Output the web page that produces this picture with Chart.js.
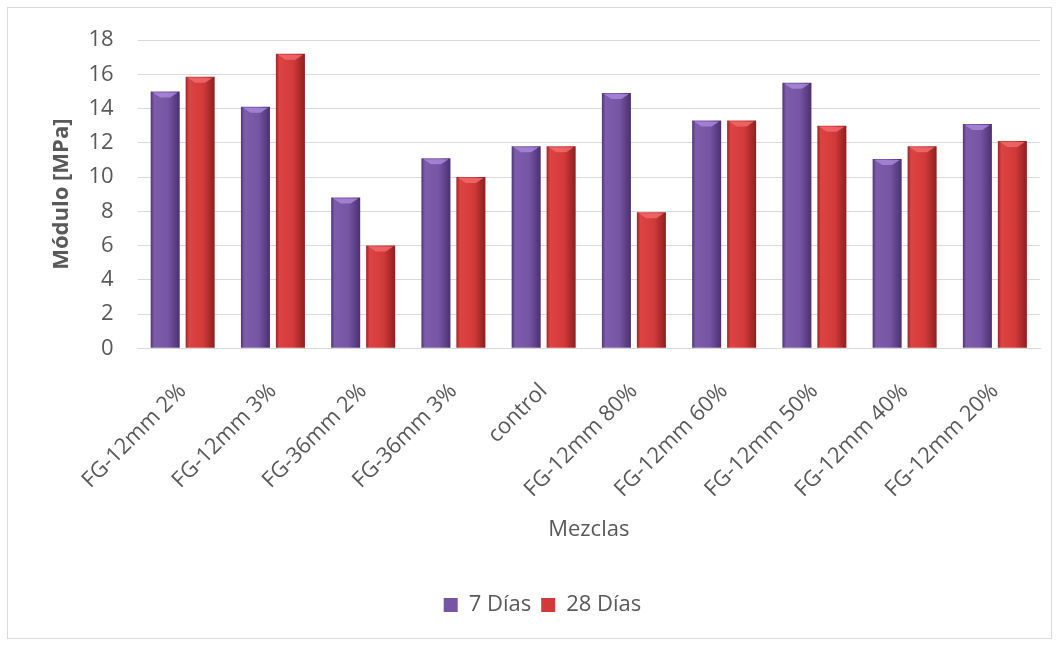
<!DOCTYPE html>
<html>
<head>
<meta charset="utf-8">
<script src="https://cdn.jsdelivr.net/npm/chart.js@4/dist/chart.umd.min.js"></script>
<style>
  html, body { margin: 0; padding: 0; background: #fff; }
  #wrap { position: absolute; left: 7px; top: 7px; width: 1045px; height: 632px; border: 1px solid #d9d9d9; box-sizing: border-box; overflow: hidden; }
  #c { position: absolute; left: 0; top: 0; }
</style>
</head>
<body>
<div id="wrap"><canvas id="c" width="1043" height="630"></canvas></div>
<script>
const categories = ['FG-12mm 2%', 'FG-12mm 3%', 'FG-36mm 2%', 'FG-36mm 3%', 'control', 'FG-12mm 80%', 'FG-12mm 60%', 'FG-12mm 50%', 'FG-12mm 40%', 'FG-12mm 20%'];
const dias7 = [15.0, 14.1, 8.8, 11.1, 11.8, 14.9, 13.3, 15.5, 11.05, 13.1];
const dias28 = [15.85, 17.2, 6.0, 10.0, 11.8, 7.95, 13.3, 13.0, 11.8, 12.1];
const yTicks = [0, 2, 4, 6, 8, 10, 12, 14, 16, 18];

const stops = {
  purple: { body: ['#4f3578', '#7d5cab', '#7655a4', '#4a3070'], bevel: '#a886d8' },
  red: { body: ['#9c2424', '#de4343', '#d23a3a', '#8e1f1f'], bevel: '#f06a6a' }
};

const gradientPlugin = {
  id: 'barGradient',
  beforeDatasetsDraw(chart) {
    const ctx = chart.ctx;
    chart.data.datasets.forEach((ds, di) => {
      const meta = chart.getDatasetMeta(di);
      const s = stops[ds.gradKey].body;
      meta.data.forEach(bar => {
        const x0 = bar.x - bar.width / 2, x1 = bar.x + bar.width / 2;
        const g = ctx.createLinearGradient(x0, 0, x1, 0);
        g.addColorStop(0, s[0]);
        g.addColorStop(0.12, s[1]);
        g.addColorStop(0.6, s[2]);
        g.addColorStop(1, s[3]);
        bar.options = Object.assign({}, bar.options, { backgroundColor: g });
      });
    });
  },
  afterDatasetsDraw(chart) {
    const ctx = chart.ctx;
    chart.data.datasets.forEach((ds, di) => {
      const meta = chart.getDatasetMeta(di);
      const c = stops[ds.gradKey].bevel;
      meta.data.forEach(bar => {
        const x0 = bar.x - bar.width / 2, x1 = bar.x + bar.width / 2, top = bar.y;
        ctx.save();
        ctx.fillStyle = c;
        ctx.globalAlpha = 0.85;
        ctx.beginPath();
        ctx.moveTo(x0 + 2, top + 1);
        ctx.lineTo(x1 - 2, top + 1);
        ctx.lineTo(bar.x + 5, top + 6);
        ctx.lineTo(bar.x - 5, top + 6);
        ctx.closePath();
        ctx.fill();
        ctx.restore();
      });
    });
  }
};

new Chart(document.getElementById('c'), {
  type: 'bar',
  data: {
    labels: categories,
    datasets: [
      { label: '7 Días', data: dias7, gradKey: 'purple', backgroundColor: '#7655a4', borderWidth: 0 },
      { label: '28 Días', data: dias28, gradKey: 'red', backgroundColor: '#d23a3a', borderWidth: 0 }
    ]
  },
  plugins: [gradientPlugin],
  options: {
    responsive: false,
    animation: false,
    devicePixelRatio: 1,
    layout: { padding: { left: 37, right: 11, top: 32, bottom: 12 } },
    datasets: { bar: { categoryPercentage: 0.775, barPercentage: 0.83 } },
    scales: {
      x: {
        afterFit(axis) { axis.paddingLeft = 0; axis.paddingRight = 0; },
        grid: { display: false, drawTicks: false },
        border: { display: true, color: '#d9d9d9' },
        ticks: { color: '#595959', font: { family: 'Open Sans', size: 22 }, maxRotation: 45, minRotation: 45, padding: 30, autoSkip: false },
        title: { display: true, text: 'Mezclas', color: '#595959', font: { family: 'Open Sans', size: 22 }, padding: { top: -16, bottom: 41 } }
      },
      y: {
        min: 0, max: 18,
        afterBuildTicks(axis) { axis.ticks = yTicks.map(v => ({ value: v })); },
        afterFit(axis) { axis.paddingTop = 0; axis.paddingBottom = 0; },
        grid: { color: '#d9d9d9', drawTicks: false },
        border: { display: false },
        ticks: { color: '#595959', font: { family: 'Open Sans', size: 22 }, padding: 24 },
        title: { display: true, text: 'Módulo [MPa]', color: '#595959', font: { family: 'Open Sans', size: 22, weight: 'bold' }, padding: { top: 4, bottom: -11 } }
      }
    },
    plugins: {
      legend: {
        position: 'bottom',
        labels: { color: '#595959', font: { family: 'Open Sans', size: 22 }, boxWidth: 14, boxHeight: 14, padding: 10 },
      },
      tooltip: { enabled: false }
    }
  },
});
</script>
</body>
</html>
